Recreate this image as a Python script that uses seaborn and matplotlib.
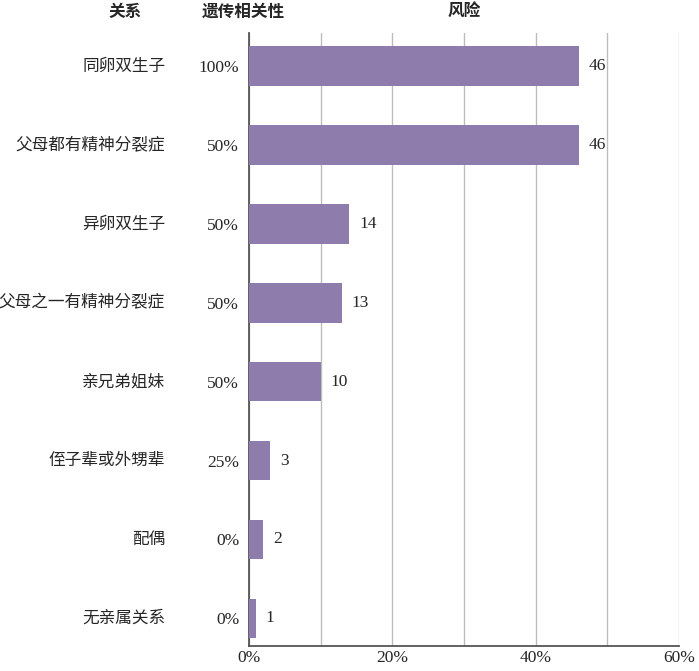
import pandas as pd
import seaborn as sns
import matplotlib.pyplot as plt

# data
relations = ["同卵双生子", "父母都有精神分裂症", "异卵双生子", "父母之一有精神分裂症",
             "亲兄弟姐妹", "侄子辈或外甥辈", "配偶", "无亲属关系"]
genetic = ["100%", "50%", "50%", "50%", "50%", "25%", "0%", "0%"]
risk = [46, 46, 14, 13, 10, 3, 2, 1]
xticks = [0, 10, 20, 30, 40, 50, 60]
xticklabels = ["0%", "", "20%", "", "40%", "", "60%"]

df = pd.DataFrame({"relation": relations, "risk": risk})

sns.set_theme(style="white")
plt.rcParams["font.family"] = ["Liberation Serif", "Noto Sans CJK SC"]

fig = plt.figure(figsize=(6.99, 6.71), dpi=100)
ax = fig.add_axes([0.3562, 0.0373, 0.6152, 0.9135])

sns.barplot(data=df, x="risk", y="relation", orient="h", color="#8e7cad",
            saturation=1, width=0.5, linewidth=0, ax=ax, zorder=3)

ax.set_xlim(0, 60)
ax.set_ylim(7.35, -0.42)
ax.set_xticks(xticks)
ax.set_xticklabels(xticklabels, fontsize=12.5)
ax.grid(axis="x", color="#bdbdbd", linewidth=1, zorder=0)
ax.tick_params(axis="both", length=0)
ax.tick_params(axis="x", pad=3)
ax.set_yticks(range(len(genetic)))
ax.set_yticklabels(genetic, fontsize=12.5)
ax.tick_params(axis="y", pad=7)
ax.set_xlabel("")
ax.set_ylabel("")

for s in ["top", "right"]:
    ax.spines[s].set_visible(False)
for s in ["left", "bottom"]:
    ax.spines[s].set_color("#555555")
    ax.spines[s].set_linewidth(1.3)

ax.bar_label(ax.containers[0], labels=[str(v) for v in risk], padding=7,
             fontsize=12.5, family="Liberation Serif")

trans = ax.get_yaxis_transform()
for i, name in enumerate(relations):
    ax.text(-0.195, i, name, transform=trans, ha="right", va="center",
            fontsize=12, family=["Noto Sans CJK SC", "DejaVu Sans"])

head = dict(fontsize=12, fontweight="bold", ha="center", va="center",
            family=["Noto Sans CJK SC", "DejaVu Sans"])
fig.text(0.179, 0.982, "关系", **head)
fig.text(0.348, 0.982, "遗传相关性", **head)
fig.text(0.664, 0.982, "风险", **head)

fig.savefig("out.png", dpi=100)
